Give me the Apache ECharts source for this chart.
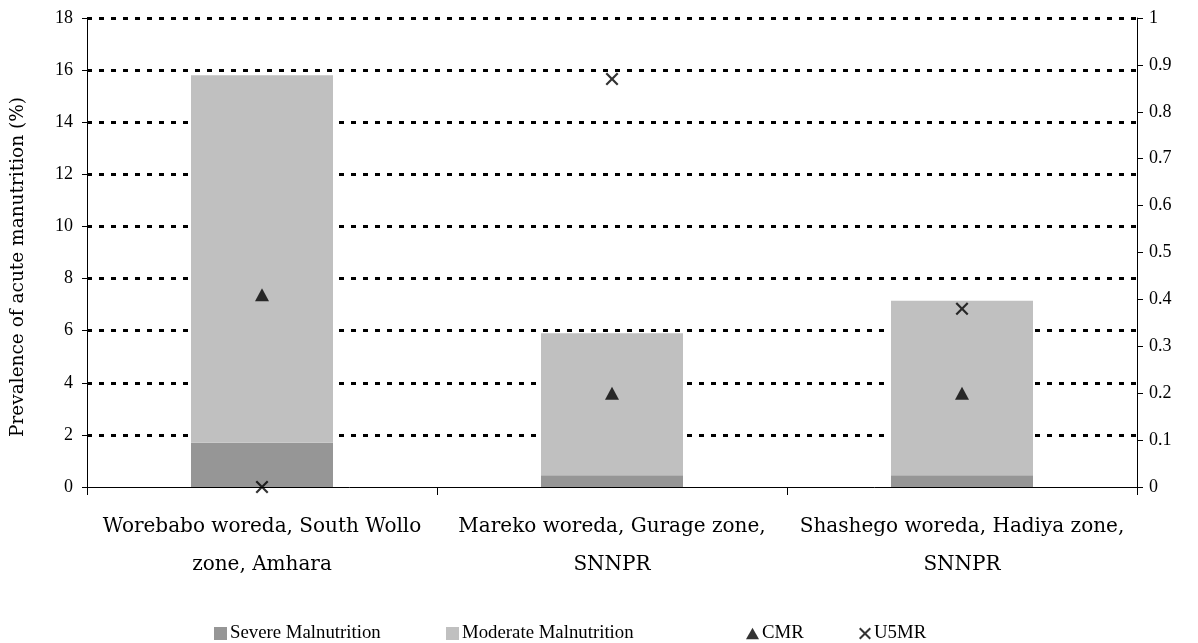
<!DOCTYPE html>
<html>
<head>
<meta charset="utf-8">
<script src="https://cdn.jsdelivr.net/npm/echarts@6/dist/echarts.min.js"></script>
<style>html,body{margin:0;padding:0;background:#fff;}#c{width:1198px;height:643px;}</style>
</head>
<body>
<div id="c"></div>
<script>
var categories = ["Worebabo woreda, South Wollo\nzone, Amhara", "Mareko woreda, Gurage zone,\nSNNPR", "Shashego woreda, Hadiya zone,\nSNNPR"];
var severe = [1.7, 0.45, 0.45];
var moderate = [14.1, 5.45, 6.7];
var cmr = [0.41, 0.20, 0.20];
var u5mr = [0.0, 0.87, 0.38];
var leftTicks = {min: 0, max: 18, interval: 2};
var rightTicks = {min: 0, max: 1, interval: 0.1};
var yTitle = 'Prevalence of acute manutrition (%)';

var FONT = "Liberation Serif";
var WIDE = "DejaVu Serif";
var XPATH = "path://M0,1.2L1.2,0L5,3.8L8.8,0L10,1.2L6.2,5L10,8.8L8.8,10L5,6.2L1.2,10L0,8.8L3.8,5Z";
var TRI = "path://M5,0L10,9L0,9Z";
var chart = echarts.init(document.getElementById('c'), null, {renderer: 'canvas'});
function lg(name, icon, left, w, h) {
  return {data: [{name: name, icon: icon}], left: left, top: 624, itemWidth: w, itemHeight: h, itemGap: 0,
    textStyle: {fontFamily: FONT, fontSize: 18.8, color: '#000', padding: [0,0,0,-2]}, padding: 0, selectedMode: false};
}
chart.setOption({
  animation: false,
  backgroundColor: '#fff',
  grid: {left: 87, right: 61, top: 18, bottom: 156},
  legend: [
    lg('Severe Malnutrition', 'rect', 214, 13, 13),
    lg('Moderate Malnutrition', 'rect', 446, 13, 13),
    lg('CMR', TRI, 746, 13, 12),
    lg('U5MR', XPATH, 859, 12, 12)
  ],
  graphic: [{
    type: 'text', x: 18, y: 267, rotation: Math.PI / 2,
    style: {text: yTitle, fontFamily: WIDE, fontSize: 18.5, fill: '#000', align: 'center', verticalAlign: 'middle'}
  }],
  xAxis: {
    type: 'category', data: categories,
    axisLine: {lineStyle: {color: '#000', width: 1}},
    axisTick: {show: true, length: 8, lineStyle: {color: '#000'}},
    axisLabel: {fontFamily: WIDE, fontSize: 20, color: '#000', lineHeight: 38, margin: 21, interval: 0},
    splitLine: {show: false}
  },
  yAxis: [{
    type: 'value', min: leftTicks.min, max: leftTicks.max, interval: leftTicks.interval,
    axisLine: {show: true, lineStyle: {color: '#000', width: 1}},
    axisTick: {show: true, length: 5, lineStyle: {color: '#000'}},
    axisLabel: {fontFamily: FONT, fontSize: 18, color: '#000', margin: 14},
    splitLine: {show: true, showMinLine: false, lineStyle: {color: '#000', width: 3, type: [5, 7]}}
  }, {
    type: 'value', min: rightTicks.min, max: rightTicks.max, interval: rightTicks.interval, position: 'right',
    axisLine: {show: true, lineStyle: {color: '#000', width: 1}},
    axisTick: {show: true, length: 6, lineStyle: {color: '#000'}},
    axisLabel: {fontFamily: FONT, fontSize: 18, color: '#000', margin: 12,
      formatter: function (v) { return String(+v.toFixed(1)); }},
    splitLine: {show: false}
  }],
  series: [
    {name: 'Severe Malnutrition', type: 'bar', stack: 'a', data: severe, barWidth: 142, itemStyle: {color: '#969696'}},
    {name: 'Moderate Malnutrition', type: 'bar', stack: 'a', data: moderate, barWidth: 142, itemStyle: {color: '#C0C0C0'}},
    {name: 'CMR', type: 'scatter', yAxisIndex: 1, data: cmr, symbol: TRI, symbolSize: [14, 13], itemStyle: {color: '#000'}, z: 5},
    {name: 'U5MR', type: 'scatter', yAxisIndex: 1, data: u5mr, symbol: XPATH, symbolSize: 13, itemStyle: {color: '#000'}, z: 5}
  ]
});
</script>
</body>
</html>
